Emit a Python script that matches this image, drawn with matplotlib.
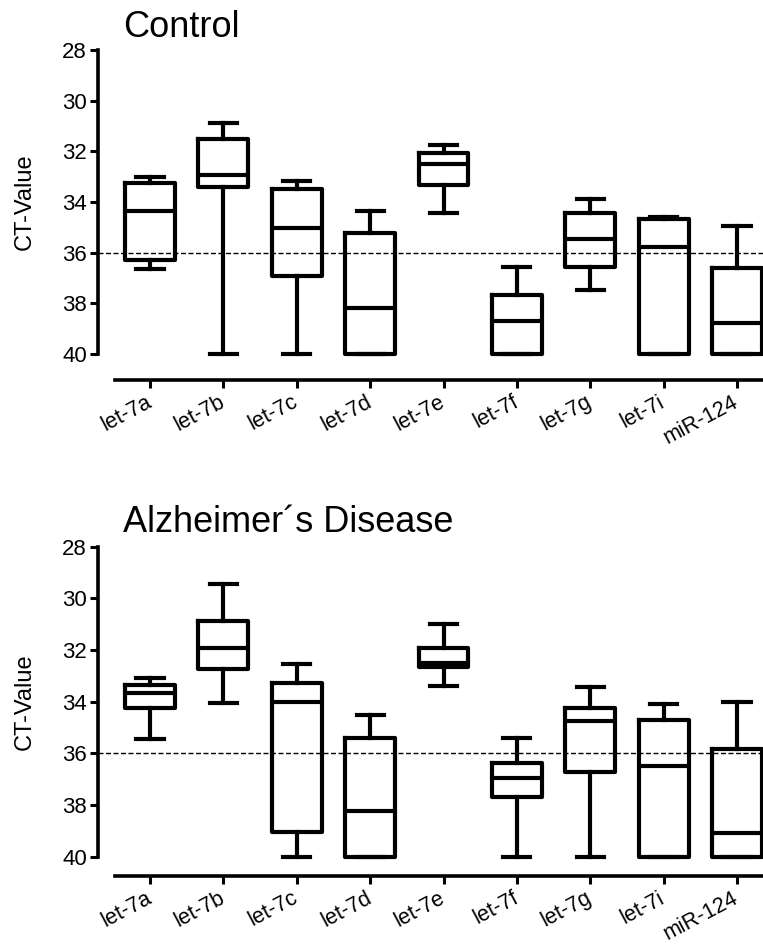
import matplotlib
matplotlib.use('Agg')
import matplotlib.pyplot as plt

plt.rcParams['font.family'] = ['Liberation Sans', 'DejaVu Sans']

categories = ['let-7a', 'let-7b', 'let-7c', 'let-7d', 'let-7e', 'let-7f', 'let-7g', 'let-7i', 'miR-124']
y_ticks = [28, 30, 32, 34, 36, 38, 40]
threshold = 36

ctrl_min = [33.0, 30.87, 33.16, 34.36, 31.75, 36.58, 33.88, 34.58, 34.95]
ctrl_q1 = [33.24, 31.53, 33.47, 35.24, 32.05, 37.67, 34.45, 34.68, 36.62]
ctrl_med = [34.34, 32.95, 35.04, 38.17, 32.5, 38.69, 35.46, 35.76, 38.79]
ctrl_q3 = [36.29, 33.42, 36.91, 40.0, 33.32, 40.0, 36.58, 40.0, 40.0]
ctrl_max = [36.65, 40.0, 40.0, 40.0, 34.45, 40.0, 37.47, 40.0, 40.0]

ad_min = [33.08, 29.46, 32.55, 34.51, 30.99, 35.41, 33.42, 34.09, 34.03]
ad_q1 = [33.35, 30.87, 33.26, 35.39, 31.91, 36.36, 34.25, 34.70, 35.84]
ad_med = [33.67, 31.92, 34.02, 38.25, 32.49, 36.96, 34.73, 36.48, 39.09]
ad_q3 = [34.23, 32.72, 39.06, 40.0, 32.67, 37.69, 36.74, 40.0, 40.0]
ad_max = [35.44, 34.06, 40.0, 40.0, 33.39, 40.0, 40.0, 40.0, 40.0]

W, H = 763, 949
fig = plt.figure(figsize=(W / 100, H / 100), dpi=100)

def px2pt(p):
    return p * 72 / 100

def make_panel(top_px, bot_px, xaxis_px, title, title_base_px, lo, q1, med, q3, hi):
    left_px = 115
    ax = fig.add_axes([left_px / W, 1 - bot_px / H, (W - left_px) / W, (bot_px - top_px) / H])
    stats = []
    for i, c in enumerate(categories):
        stats.append(dict(label=c, whislo=lo[i], q1=q1[i], med=med[i], q3=q3[i], whishi=hi[i]))
    lw = 3.0
    arts = ax.bxp(stats, positions=range(len(categories)), widths=0.68, showfliers=False,
                  boxprops=dict(color='black', linewidth=lw),
                  medianprops=dict(color='black', linewidth=lw),
                  whiskerprops=dict(color='black', linewidth=lw),
                  capprops=dict(color='black', linewidth=lw),
                  capwidths=0.37, manage_ticks=False)
    for key in arts:
        for a in arts[key]:
            a.set_clip_on(False)
    tick0, spacing = 150, 73.375
    xl = (left_px - tick0) / spacing
    xr = (W - tick0) / spacing
    ax.set_xlim(xl, xr)
    ax.set_ylim(40, 28)
    ax.axhline(threshold, xmin=-17 / (W - left_px), xmax=1, color='black', lw=1.0,
               linestyle=(0, (3.6, 1.8)), clip_on=False, zorder=0)
    for s in ['top', 'right']:
        ax.spines[s].set_visible(False)
    ax.spines['left'].set_position(('outward', px2pt(17)))
    ax.spines['left'].set_bounds(28, 40)
    ax.spines['bottom'].set_position(('outward', px2pt(xaxis_px - bot_px)))
    for s in ['left', 'bottom']:
        ax.spines[s].set_linewidth(2.6)
    ax.set_yticks(y_ticks)
    ax.set_yticklabels([str(t) for t in y_ticks], fontsize=16)
    ax.set_xticks(range(len(categories)))
    ax.set_xticklabels(categories, rotation=28, ha='right', va='center',
                       rotation_mode='anchor', fontsize=15.5)
    ax.tick_params(axis='both', direction='out', length=6, width=2.2, color='black')
    ax.tick_params(axis='y', pad=2)
    ax.tick_params(axis='x', pad=9)
    ax.patch.set_visible(False)
    fig.text(123 / W, 1 - title_base_px / H, title, fontsize=26, ha='left', va='baseline')
    fig.text(25 / W, 1 - ((top_px + bot_px) / 2) / H, 'CT-Value', rotation=90,
             ha='center', va='center', fontsize=17)
    return ax

make_panel(50, 354, 380, 'Control', 37, ctrl_min, ctrl_q1, ctrl_med, ctrl_q3, ctrl_max)
make_panel(546.7, 856.7, 876, 'Alzheimer\u00b4s Disease', 531.7, ad_min, ad_q1, ad_med, ad_q3, ad_max)

fig.savefig('out.png', dpi=100)
